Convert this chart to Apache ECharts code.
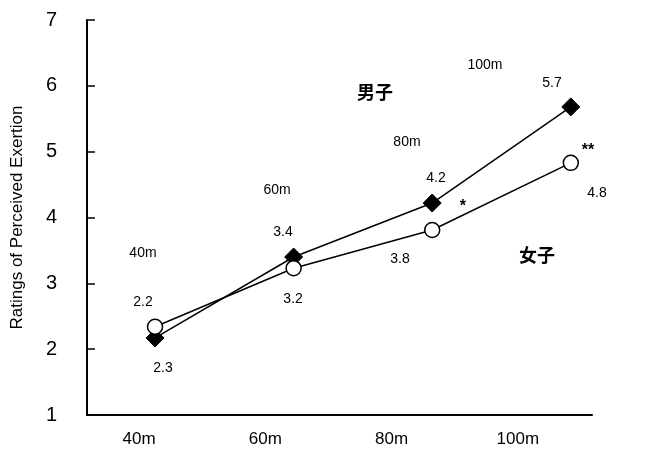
<!DOCTYPE html>
<html><head><meta charset="utf-8">
<script src="https://cdn.jsdelivr.net/npm/echarts@6/dist/echarts.min.js"></script>
<style>html,body{margin:0;padding:0;background:#fff}#c{width:651px;height:465px}</style>
</head><body><div id="c"></div>
<script>
var categories = ['40m', '60m', '80m', '100m'];
var yTicks = [1, 2, 3, 4, 5, 6, 7];
var male = [2.17, 3.4, 4.22, 5.68];     // 男子 (filled diamonds)
var female = [2.34, 3.23, 3.81, 4.83];  // 女子 (open circles)
// annotation texts with their positions in data units [xIndexPosition, rating]
var annotTexts = ['40m', '2.2', '2.3', '60m', '3.4', '3.2', '80m', '4.2', '*', '3.8', '男子', '100m', '5.7', '**', '4.8', '女子'];
var annotX = [-0.087, -0.087, 0.057, 0.880, 0.923, 0.996, 1.818, 2.027, 2.222, 1.768, 1.587, 2.381, 2.864, 3.124, 3.189, 2.756];
var annotY = [3.46, 2.72, 1.71, 4.42, 3.78, 2.76, 5.15, 4.60, 4.16, 3.37, 5.91, 6.32, 6.04, 5.02, 4.37, 3.43];

var font = 'Liberation Sans, Arial, sans-serif';

var chart = echarts.init(document.getElementById('c'), null, {renderer: 'canvas'});
chart.setOption({
  animation: false,
  backgroundColor: '#fff',
  grid: {left: 87, right: 59, top: 20, bottom: 50, containLabel: false},
  xAxis: [{
    type: 'category', data: categories, boundaryGap: true,
    axisLine: {onZero: false, lineStyle: {color: '#000', width: 2}},
    axisTick: {inside: true, length: 6, lineStyle: {color: '#000', width: 1.5}},
    axisLabel: {color: '#000', fontSize: 17, fontFamily: font, margin: 16, padding: [0, 22, 0, 0]},
    splitLine: {show: false}
  }, {
    type: 'value', show: false, min: -0.491, max: 3.153
  }],
  yAxis: {
    type: 'value', min: 1, max: 7, interval: 1,
    name: 'Ratings of Perceived Exertion', nameLocation: 'middle', nameGap: 61, nameRotate: 90,
    nameTextStyle: {color: '#000', fontSize: 17, fontFamily: font},
    axisLine: {show: true, onZero: false, lineStyle: {color: '#000', width: 2}},
    axisTick: {show: true, inside: true, length: 8, lineStyle: {color: '#000', width: 1.5}},
    axisLabel: {color: '#000', fontSize: 20, fontFamily: font, margin: 30,
      formatter: function (v) { return yTicks.indexOf(v) >= 0 ? String(v) : ''; }},
    splitLine: {show: false}
  },
  series: [{
    name: '男子', type: 'line', xAxisIndex: 1,
    data: male.map(function (v, i) { return [i, v]; }),
    symbol: 'diamond', symbolSize: 18,
    lineStyle: {color: '#000', width: 1.5},
    itemStyle: {color: '#000', borderColor: '#000'}, z: 3
  }, {
    name: '女子', type: 'line', xAxisIndex: 1,
    data: female.map(function (v, i) { return [i, v]; }),
    symbol: 'circle', symbolSize: 15, showAllSymbol: true,
    lineStyle: {color: '#000', width: 1.5},
    itemStyle: {color: '#fff', borderColor: '#000', borderWidth: 1.5}, z: 4
  }, {
    type: 'custom', xAxisIndex: 1, silent: true, z: 5,
    data: annotTexts.map(function (t, i) { return [annotX[i], annotY[i], i]; }),
    renderItem: function (params, api) {
      var p = api.coord([api.value(0), api.value(1)]);
      var t = annotTexts[api.value(2)];
      var big = (t === '男子' || t === '女子');
      var star = (t.charAt(0) === '*');
      return {
        type: 'text', x: p[0], y: p[1],
        style: {
          text: t, fill: '#000', align: 'center', verticalAlign: 'middle',
          fontSize: big ? 18 : (star ? 16 : 14),
          fontWeight: (big || star) ? 'bold' : 'normal',
          fontFamily: big ? 'Noto Sans CJK SC, sans-serif' : font
        }
      };
    }
  }]
});
</script></body></html>
